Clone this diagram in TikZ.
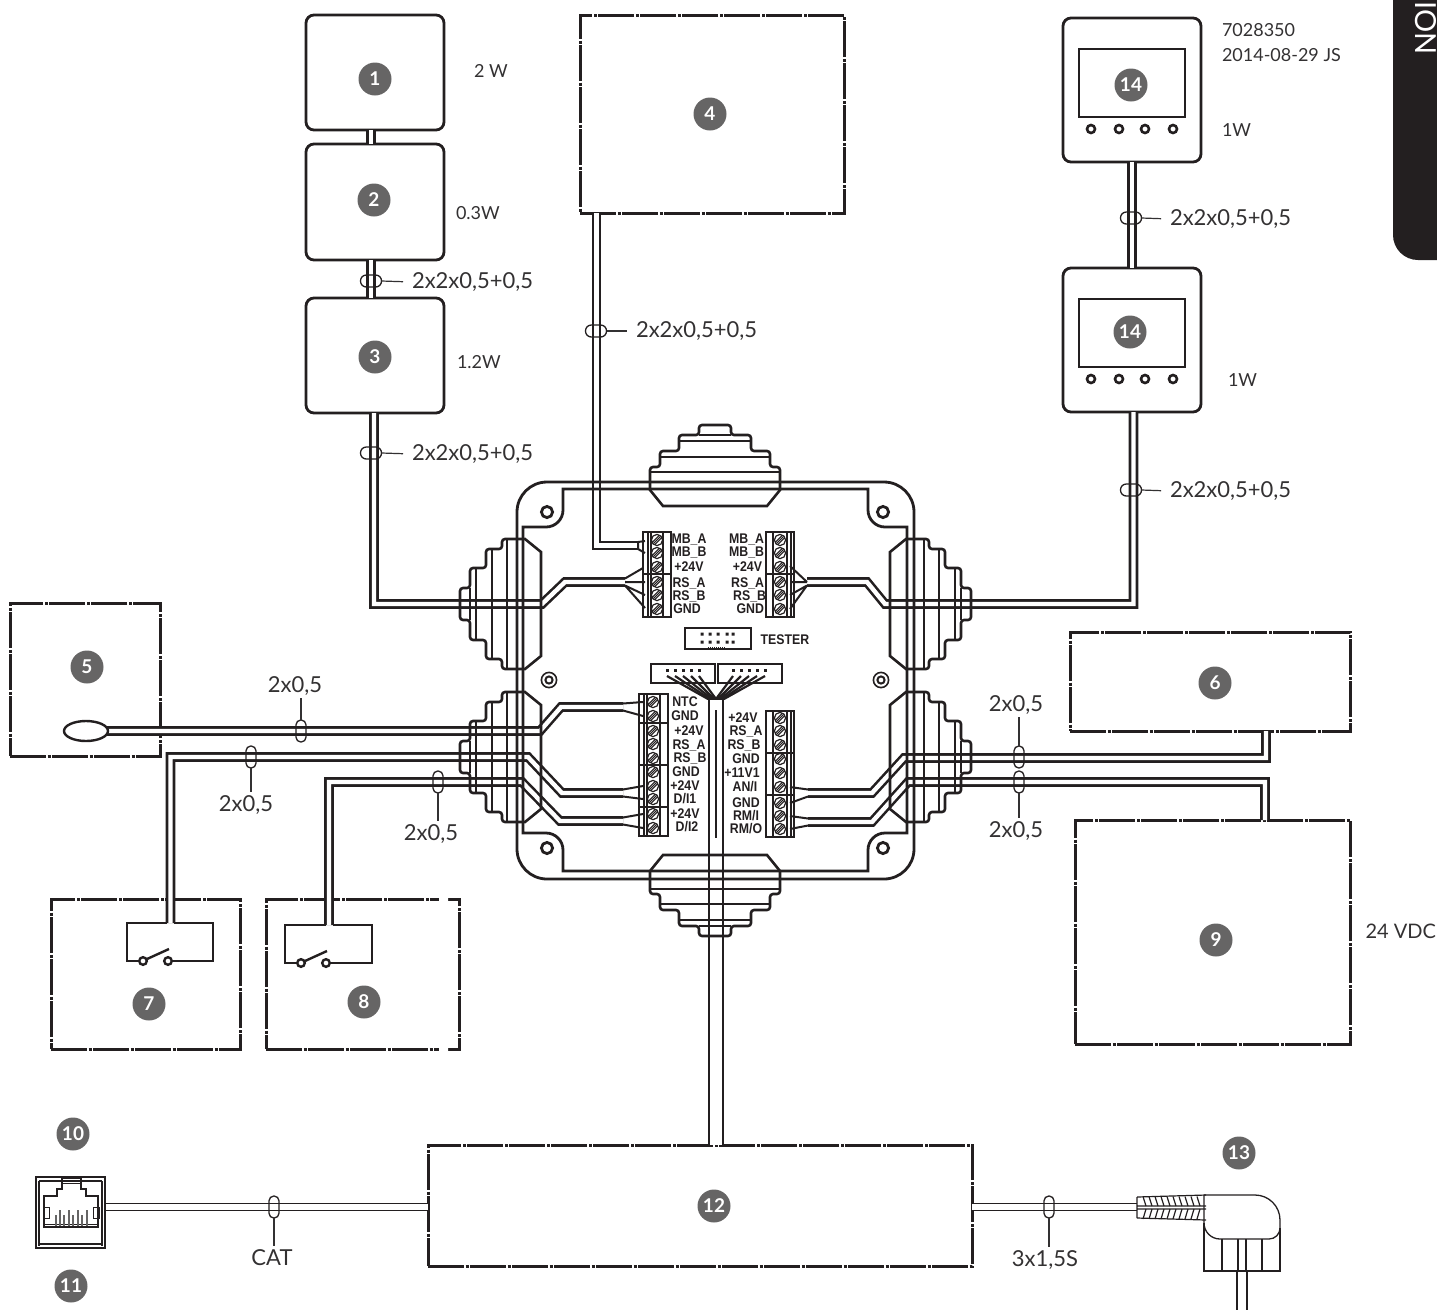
\documentclass[tikz,border=0pt]{standalone}
\usepackage{fontspec}
\setmainfont{Lato}
\newfontfamily\termfont{Liberation Sans}[FakeStretch=0.88,BoldFont={Liberation Sans Bold}]
\usetikzlibrary{calc,shapes.geometric}
\definecolor{ink}{HTML}{231F20}
\definecolor{txt}{HTML}{333132}
\definecolor{badge}{HTML}{666565}
\tikzset{
  x=1pt,y=-1pt,
  every node/.style={outer sep=0pt,inner sep=0pt,text=txt},
  wire/.style={draw=ink,line width=2.6pt,double=white,double distance=4.4pt,line join=miter},
  wirewide/.style={draw=ink,line width=2.6pt,double=white,double distance=11.4pt},
  thinwire/.style={draw=ink,line width=1.4pt,double=white,double distance=5.5pt},
  fan/.style={draw=ink,line width=2pt},
  ln/.style={draw=ink,line width=2.6pt},
  thn/.style={draw=ink,line width=1.2pt},
  rbox/.style={draw=ink,line width=2.8pt,rounded corners=8pt},
  dbox/.style={draw=ink,line width=3pt,dash pattern=on 36pt off 1.5pt on 3pt off 1.5pt},
  num/.style={circle,fill=badge,minimum size=33pt,text=white,font=\bfseries\fontsize{19}{19}\selectfont},
  lab/.style={font=\fontsize{18}{20}\selectfont},
  cab/.style={font=\fontsize{22}{24}\selectfont},
  term/.style={text=ink,font=\termfont\bfseries\fontsize{14}{14}\selectfont},
  ovh/.style={draw=ink,line width=1.3pt,minimum width=21pt,minimum height=12pt,rounded corners=5.8pt},
  ovv/.style={draw=ink,line width=1.3pt,minimum width=10pt,minimum height=22pt,rounded corners=4.8pt},
  lead/.style={draw=txt,line width=1.2pt},
  gland/.pic={
    \draw[ln,rounded corners=3pt] (-65,0) -- (-65,-15) -- (-55,-15) -- (-55,-31) -- (-36,-31) -- (-36,-47) -- (-16,-47) -- (-16,-57) -- (16,-57) -- (16,-47) -- (36,-47) -- (36,-31) -- (55,-31) -- (55,-15) -- (65,-15) -- (65,0);
    \draw[ln] (-65,0) -- (-65,8) -- (-52,24) -- (52,24) -- (65,8) -- (65,0);
    \draw[ln] (-16,-47) -- (16,-47) (-36,-41) -- (36,-41) (-55,-25) -- (55,-25) (-65,-10) -- (65,-10);
  },
  screw/.pic={
    \draw[thn] (0,0) circle (5.6);
    \draw[draw=ink,line width=1pt] (-4.6,2.2) -- (2.2,-4.6) (-3.6,3.6) -- (3.6,-3.6) (-2.2,4.6) -- (4.6,-2.2);
  },
  hole/.pic={
    \draw[draw=ink,line width=2.8pt] (0,0) circle (5.6);
  },
  hole2/.pic={
    \draw[draw=ink,line width=1.6pt] (0,0) circle (7.6);
    \draw[draw=ink,line width=2pt] (0,0) circle (3.6);
  },
  btn/.pic={
    \draw[draw=ink,line width=2.6pt] (0,0) circle (4);
  },
  sw/.pic={
    \draw[draw=ink,line width=2.4pt,fill=white] (-13,0) circle (3.8) (12,0) circle (3.8);
    \draw[draw=ink,line width=2.4pt] (-9,-2) -- (13,-12);
  }
}
\begin{document}
\begin{tikzpicture}
\useasboundingbox (0,0) rectangle (1437,1310);
% section tab
\fill[ink] (1393,0) -- (1393,235) arc[start angle=180,end angle=90,radius=25] -- (1437,260) -- (1437,0) -- cycle;
\node[rotate=-90,anchor=base east,text=white,font=\fontsize{29}{30}\selectfont] (tab) at (1415,55) {ION};

% devices
\node[rbox,minimum width=138pt,minimum height=115pt] (b1) at (375,72.5) {};
\node[rbox,minimum width=138pt,minimum height=116pt] (b2) at (375,202) {};
\node[rbox,minimum width=138pt,minimum height=115pt] (b3) at (375,355.5) {};
\node[dbox,minimum width=264pt,minimum height=198pt] (b4) at (712,114) {};
\node[dbox,minimum width=150pt,minimum height=153pt] (b5) at (85,679.5) {};
\node[dbox,minimum width=280pt,minimum height=99pt] (b6) at (1210,681.5) {};
\node[dbox,minimum width=189pt,minimum height=150pt] (b7) at (145.5,974) {};
\node[dbox,minimum width=193pt,minimum height=150pt] (b8) at (362.5,974) {};
\node[dbox,minimum width=275pt,minimum height=224pt] (b9) at (1212.5,932) {};
\node[dbox,minimum width=544pt,minimum height=121pt] (b12) at (700,1205.5) {};
\node[rbox,minimum width=138pt,minimum height=144pt] (b14a) at (1132,90) {};
\node[rbox,minimum width=138pt,minimum height=144pt] (b14b) at (1132,340) {};
\fill[white] (439,895) rectangle (448,903) (439,1045) rectangle (448,1053);

% terminal fans' wire ends
\coordinate (tul) at (625,582);
\coordinate (tur) at (807,582);
\coordinate (t5) at (623,707);
\coordinate (t7) at (623,793);
\coordinate (t8) at (623,821);
\coordinate (t6) at (808,793);
\coordinate (t9) at (808,822);
\coordinate (tmb) at (638,545.5);

% wires
\draw[wire] (371,130) -- (371,144);
\draw[wire] (371,260) -- (371,298);
\draw[wire] (374,413) -- (374,604) -- (542,604) -- (565,582) -- (tul);
\draw[wire] (596.5,213) -- (596.5,545.5) -- (tmb);
\draw[wire] (1132,162) -- (1132,268);
\draw[wire] (1133.5,412) -- (1133.5,604) -- (885,604) -- (867,582) -- (tur);
\draw[wire] (107,731) -- (540,731) -- (561,707) -- (t5);
\draw[wire] (170.5,923) -- (170.5,757) -- (528,757) -- (562,793) -- (t7);
\draw[wire] (329,925) -- (329,782) -- (522,782) -- (560,821) -- (t8);
\draw[wire] (1266,731) -- (1266,758) -- (904,758) -- (872,793) -- (t6);
\draw[wire] (1265,820) -- (1265,782) -- (908,782) -- (872,822) -- (t9);
\draw[wirewide] (716,1145) -- (716,699);
\draw[draw=ink,line width=1.4pt] (716,710) -- (716,838);
\draw[thinwire] (105,1207) -- (428,1207);
\draw[thinwire] (972,1207) -- (1137,1207);

% enclosure
\draw[draw=ink,line width=2.8pt] (547,482) -- (884,482) arc[start angle=-90,end angle=0,radius=30] -- (914,849) arc[start angle=0,end angle=90,radius=30] -- (547,879) arc[start angle=90,end angle=180,radius=30] -- (517,512) arc[start angle=180,end angle=270,radius=30] -- cycle;
\draw[draw=ink,line width=2.8pt] (563,489) -- (868,489) -- (868,510) arc[start angle=180,end angle=90,radius=17] -- (907,527) -- (907,833) -- (885,833) arc[start angle=270,end angle=180,radius=17] -- (868,871) -- (563,871) -- (563,850) arc[start angle=0,end angle=-90,radius=17] -- (523,833) -- (523,527) -- (546,527) arc[start angle=90,end angle=0,radius=17] -- cycle;
\pic at (715,482) {gland};
\pic[rotate=180] at (715,879) {gland};
\pic[rotate=90] at (517,604) {gland};
\pic[rotate=90] at (517,757) {gland};
\pic[rotate=-90] at (914,604) {gland};
\pic[rotate=-90] at (914,757) {gland};
\pic at (547,512) {hole};
\pic at (883,512) {hole};
\pic at (547,848) {hole};
\pic at (883,848) {hole};
\pic at (549,680) {hole2};
\pic at (881,680) {hole2};

% terminal blocks
\draw[thn] (643,532) rectangle (671,617) (643,574) -- (671,574) (648,532) -- (648,617) (651,532) -- (651,617) (663,532) -- (663,617);
\foreach \y in {540,553,567,582,595,609} \pic at (657,\y) {screw};
\draw[thn] (766,532) rectangle (794,617) (766,574) -- (794,574) (773,532) -- (773,617) (787,532) -- (787,617);
\draw[draw=ink,line width=2pt] (791,532) -- (791,617);
\foreach \y in {540,553,567,582,595,609} \pic at (780,\y) {screw};
\draw[thn] (639,694) rectangle (668,836) (639,723) -- (668,723) (639,765) -- (668,765) (639,807) -- (668,807) (644,694) -- (644,836) (647,694) -- (647,836) (660,694) -- (660,836);
\foreach \y in {702,716,731,744,758,772,786,799,814,828} \pic at (653,\y) {screw};
\draw[thn] (766,711) rectangle (794,837) (766,753) -- (794,753) (766,795) -- (794,795) (773,711) -- (773,837) (787,711) -- (787,837);
\draw[draw=ink,line width=2pt] (791,711) -- (791,837);
\foreach \y in {718,731,745,759,773,787,803,816,829} \pic at (780,\y) {screw};

% fan-outs
\draw[fan] ($(tul)+(0,-3.5)$) -- (643,568) (tul) -- (645,582) ($(tul)+(0,3.5)$) -- (645,595) ($(tul)+(0,3.5)$) -- (645,608);
\draw[fan] (tur) -- (790,566) (tur) -- (790,582) ($(tur)+(0,3.5)$) -- (790,595) ($(tur)+(0,3.5)$) -- (790,609);
\draw[fan] ($(tmb)+(0,-3.5)$) -- (645,541) ($(tmb)+(0,3.5)$) -- (645,553) ($(tmb)+(0,-3.5)$) -- ($(tmb)+(0,3.5)$);
\draw[fan] ($(t5)+(0,-3.5)$) -- (643,702) ($(t5)+(0,3.5)$) -- (643,716);
\draw[fan] ($(t7)+(0,-3.5)$) -- (643,786) ($(t7)+(0,3.5)$) -- (643,799);
\draw[fan] ($(t8)+(0,-3.5)$) -- (643,814) ($(t8)+(0,3.5)$) -- (643,828);
\draw[fan] ($(t6)+(0,-3.5)$) -- (790,787) ($(t6)+(0,3.5)$) -- (790,803);
\draw[fan] ($(t9)+(0,-3.5)$) -- (790,816) ($(t9)+(0,3.5)$) -- (790,829);

% ribbon connectors
\node[draw=ink,line width=2.8pt,minimum width=66pt,minimum height=21pt] (tester) at (718,638.5) {};
\foreach \x in {702,710,718,727,733} \fill[ink] (\x-1.5,632.5) rectangle (\x+1.5,635.5) (\x-1.5,640.5) rectangle (\x+1.5,643.5);
\draw[draw=ink,line width=1pt,densely dotted] (708,647) -- (726,647);
\node[draw=ink,line width=2.8pt,minimum width=64pt,minimum height=19pt] (cl) at (683,673.5) {};
\node[draw=ink,line width=2.8pt,minimum width=64pt,minimum height=19pt] (cr) at (750,673.5) {};
\foreach \x/\e in {667/708,675/710,683/712,691/714,699/716,733/716,741/718,749/720,757/722,765/724} {
  \fill[ink] (\x-1.5,668.5) rectangle (\x+1.5,671.5);
  \draw[draw=ink,line width=2.2pt] (\x,676) -- (\e,699);
}
\draw[draw=ink,line width=2.2pt] (707,699) -- (725,699);

% terminal labels
\node[term] (n1) at (689,540) {MB\_A};
\node[term] (n2) at (689,553) {MB\_B};
\node[term] (n3) at (689,567) {+24V};
\node[term] (n4) at (689,583) {RS\_A};
\node[term] (n5) at (689,596) {RS\_B};
\node[term] (n6) at (687,609) {GND};
\node[term,anchor=east] (n7) at (764,540) {MB\_A};
\node[term,anchor=east] (n8) at (764,553) {MB\_B};
\node[term,anchor=east] (n9) at (762,567) {+24V};
\node[term,anchor=east] (n10) at (764,583) {RS\_A};
\node[term,anchor=east] (n11) at (766,596) {RS\_B};
\node[term,anchor=east] (n12) at (764,609) {GND};
\node[term] (n13) at (785,640) {TESTER};
\node[term] (n14) at (685,702) {NTC};
\node[term] (n15) at (685,716) {GND};
\node[term] (n16) at (689,731) {+24V};
\node[term] (n17) at (689,745) {RS\_A};
\node[term] (n18) at (690,758) {RS\_B};
\node[term] (n19) at (686,772) {GND};
\node[term] (n20) at (685,786) {+24V};
\node[term] (n21) at (685,799) {D/I1};
\node[term] (n22) at (685,814) {+24V};
\node[term] (n23) at (687,827) {D/I2};
\node[term] (n24) at (743,718) {+24V};
\node[term] (n25) at (746,731) {RS\_A};
\node[term] (n26) at (744,745) {RS\_B};
\node[term] (n27) at (746,759) {GND};
\node[term] (n28) at (742,773) {+11V1};
\node[term] (n29) at (745,787) {AN/I};
\node[term] (n30) at (746,803) {GND};
\node[term] (n31) at (746,816) {RM/I};
\node[term] (n32) at (746,829) {RM/O};

% device 14 details
\node[draw=ink,line width=2.8pt,minimum width=106pt,minimum height=68pt] (s1) at (1132,83) {};
\node[draw=ink,line width=2.8pt,minimum width=106pt,minimum height=68pt] (s2) at (1132,333) {};
\foreach \x in {1091,1119,1145,1173} {\pic at (\x,129) {btn}; \pic at (\x,379) {btn};}

% sensor
\node[ellipse,draw=ink,line width=2.4pt,fill=white,minimum width=44pt,minimum height=20pt] (bulb) at (86,731) {};

% switches
\draw[ln] (167,923) -- (127,923) -- (127,961) -- (143,961) (174,923) -- (213,923) -- (213,961) -- (168,961);
\pic at (156,961) {sw};
\draw[ln] (325.5,925) -- (285,925) -- (285,963) -- (301,963) (332.5,925) -- (372,925) -- (372,963) -- (326,963);
\pic at (314,963) {sw};

% RJ45 jack
\draw[draw=ink,line width=1.4pt] (36,1177) rectangle (105,1248) (39,1181) -- (102,1181) (39,1181) -- (39,1246) (102,1181) -- (102,1246) (39,1244) -- (102,1244);
\draw[draw=ink,line width=2pt] (44,1227) -- (44,1196) -- (57,1196) -- (57,1189) -- (62,1189) -- (62,1178) -- (81,1178) -- (81,1189) -- (86,1189) -- (86,1196) -- (98,1196) -- (98,1227) -- cycle;
\draw[draw=ink,line width=1pt] (62,1183) -- (81,1183) (44,1224) -- (98,1224) (43,1207) rectangle (49,1218) (93,1207) rectangle (99,1218);
\foreach \x/\t in {56/1215,60/1210,64/1215,69/1210,73/1215,78/1210,82/1215,87/1210} \draw[draw=badge,line width=2pt] (\x,\t) -- (\x,1226);

% mains plug
\draw[thn] (1137,1197) -- (1206,1195) (1137,1218) -- (1206,1220) (1137,1197) -- (1137,1218) (1137,1206) -- (1206,1206) (1137,1209) -- (1206,1209);
\foreach \x in {1143,1149,1155,1161,1167,1173,1179,1185,1191,1197} \draw[thn] (\x,1196.5) -- (\x+3,1206) (\x+3,1209) -- (\x,1219);
\draw[draw=ink,line width=1.3pt] (1204,1195) -- (1255,1195) arc[start angle=-90,end angle=0,radius=25] -- (1280,1228) arc[start angle=0,end angle=90,radius=11] -- (1220,1239) arc[start angle=90,end angle=180,radius=16] -- (1204,1195);
\draw[draw=ink,line width=1.3pt] (1204,1223) -- (1204,1271) -- (1280,1271) -- (1280,1228) (1222,1239) -- (1222,1271) (1238,1239) -- (1238,1271) (1246,1239) -- (1246,1271) (1262,1239) -- (1262,1271);
\draw[draw=ink,line width=1.3pt] (1237,1271) -- (1237,1310) (1247,1271) -- (1247,1310);

% cable ovals and their labels
\node[ovh] (o1) at (371,281) {};
\node[cab,anchor=west] (l1) at (412,282) {2x2x0,5+0,5};
\node[ovh] (o2) at (371,453) {};
\node[cab,anchor=west] (l2) at (412,454) {2x2x0,5+0,5};
\node[ovh] (o3) at (596,331) {};
\node[cab,anchor=west] (l3) at (636,331) {2x2x0,5+0,5};
\node[ovh] (o4) at (1131,218) {};
\node[cab,anchor=west] (l4) at (1170,219) {2x2x0,5+0,5};
\node[ovh] (o5) at (1131,490) {};
\node[cab,anchor=west] (l5) at (1170,491) {2x2x0,5+0,5};
\foreach \o/\l in {o1/l1,o2/l2,o3/l3,o4/l4,o5/l5} \draw[lead,shorten >=9pt] (\o.east) -- (\l.west);
\node[ovv] (o6) at (301,731) {};
\node[cab] (l6) at (295,686) {2x0,5};
\node[ovv] (o7) at (251,757) {};
\node[cab] (l7) at (246,805) {2x0,5};
\node[ovv] (o8) at (438,782) {};
\node[cab] (l8) at (431,834) {2x0,5};
\node[ovv] (o9) at (1019,757) {};
\node[cab] (l9) at (1016,705) {2x0,5};
\node[ovv] (o10) at (1019,782) {};
\node[cab] (l10) at (1016,831) {2x0,5};
\node[ovv] (o11) at (274,1207) {};
\node[cab] (l11) at (272,1258) {CAT};
\node[ovv] (o12) at (1049,1207) {};
\node[cab] (l12) at (1045,1260) {3x1,5S};
\draw[lead] (o6.north) -- ($(l6.south -| o6.north)+(0,3)$);
\draw[lead] (o9.north) -- ($(l9.south -| o9.north)+(0,3)$);
\foreach \o/\l in {o7/l7,o8/l8,o10/l10,o11/l11,o12/l12} \draw[lead] (\o.south) -- ($(\l.north -| \o.south)+(0,-4)$);

% powers and notes
\node[lab,anchor=west] (p1) at (474,71) {2 W};
\node[lab,anchor=west] (p2) at (456,213) {0.3W};
\node[lab,anchor=west] (p3) at (457,362) {1.2W};
\node[lab,anchor=west] (p4) at (1222,130) {1W};
\node[lab,anchor=west] (p5) at (1228,380) {1W};
\node[lab,anchor=west] (p6) at (1222,30) {7028350};
\node[lab,anchor=west] (p7) at (1222,55) {2014-08-29 JS};
\node[lab,anchor=east,font=\fontsize{20}{22}\selectfont] (p8) at (1436,931) {24 VDC};

% numbered badges
\node[num] (k1) at (375,79) {1};
\node[num] (k2) at (374,200) {2};
\node[num] (k3) at (375,357) {3};
\node[num] (k4) at (710,114) {4};
\node[num] (k5) at (87,667) {5};
\node[num] (k6) at (1215,683) {6};
\node[num] (k7) at (149,1004) {7};
\node[num] (k8) at (364,1002) {8};
\node[num] (k9) at (1216,940) {9};
\node[num] (k10) at (73,1134) {10};
\node[num] (k11) at (71,1286) {11};
\node[num] (k12) at (714,1206) {12};
\node[num] (k13) at (1239,1153) {13};
\node[num] (k14a) at (1131,85) {14};
\node[num] (k14b) at (1130,332) {14};
\end{tikzpicture}
\end{document}
